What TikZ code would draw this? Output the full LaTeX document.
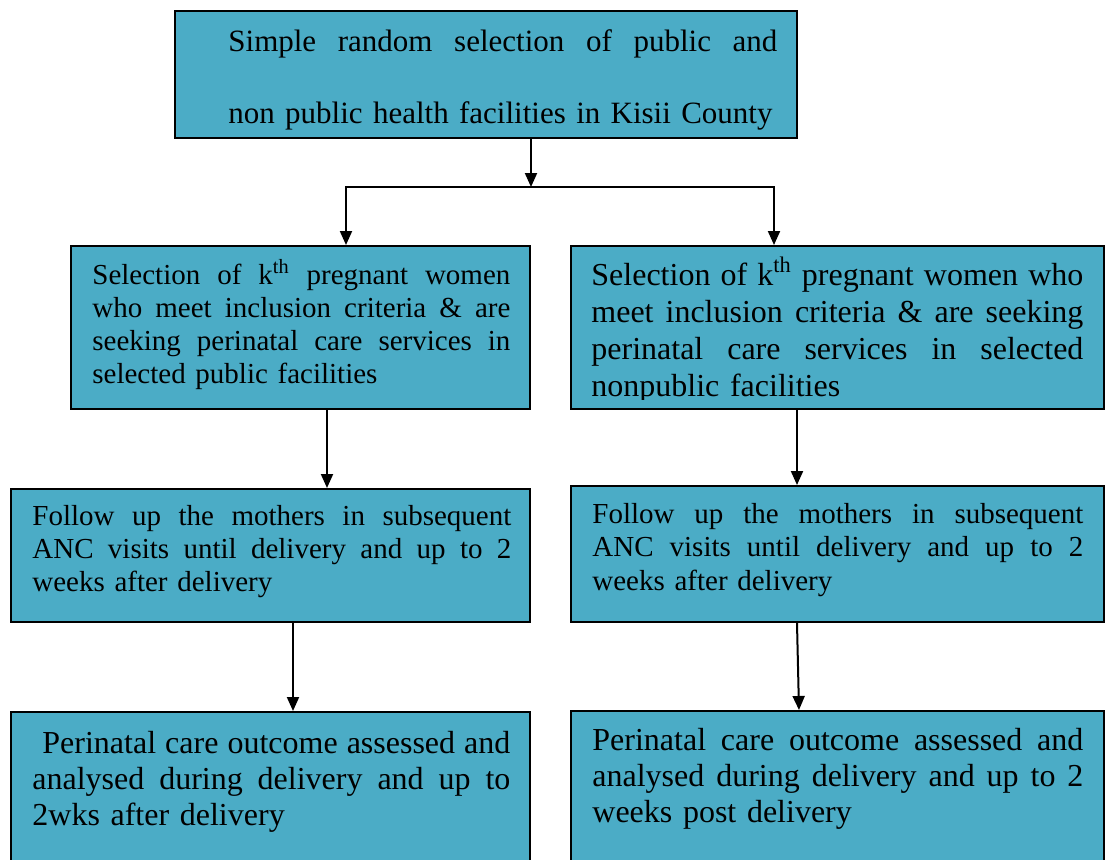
\documentclass[tikz,border=0pt]{standalone}
\usepackage{fontspec}
\setmainfont{Liberation Serif}
\usepackage{tikz}
\usetikzlibrary{arrows.meta}
\definecolor{boxblue}{HTML}{4BACC6}
\tikzstyle{box} = [draw=black, line width=1pt, fill=boxblue, inner sep=0pt]
\tikzstyle{txt} = [anchor=base west, inner sep=0pt, align=left]
\tikzstyle{arrow} = [line width=1pt, -{Triangle[length=7pt,width=6pt]}]
\newcommand{\fullline}[1]{{\spaceskip=0pt\xspaceskip=0pt\makebox[\hsize][s]{#1}}}

\begin{document}
\begin{tikzpicture}[x=0.5pt,y=-0.5pt]
        \useasboundingbox (0,0) rectangle (1105,859);
        % boxes
        \node[box, minimum width=311pt, minimum height=63.5pt] (top) at (486,74.5) {};
        \node[box, minimum width=229.5pt, minimum height=81.5pt] (l2) at (300.5,327.5) {};
        \node[box, minimum width=266.5pt, minimum height=81.5pt] (r2) at (837.5,327.5) {};
        \node[box, minimum width=259.5pt, minimum height=66.5pt] (l3) at (270.5,555.5) {};
        \node[box, minimum width=266.5pt, minimum height=68pt] (r3) at (837.5,554) {};
        \node[box, minimum width=259.5pt, minimum height=84pt] (l4) at (270.5,796) {};
        \node[box, minimum width=266.5pt, minimum height=84pt] (r4) at (837.5,795) {};
        % texts
        \node[txt, text width=274.5pt, font=\fontsize{15.5pt}{36pt}\selectfont] (toptxt) at (228,51)
            {\fullline{Simple random selection of public and}\\\mbox{non public health facilities in Kisii County}};
        \node[txt, text width=209pt, font=\fontsize{14.5pt}{16.65pt}\selectfont] (l2txt) at (92,284)
            {\fullline{Selection of k\textsuperscript{th} pregnant women}\\\fullline{who meet inclusion criteria \& are}\\\fullline{seeking perinatal care services in}\\selected public facilities};
        \begin{scope}
            \clip (571,246) rectangle (1104,399);
            \node[txt, text width=246pt, font=\fontsize{16pt}{18.5pt}\selectfont] (r2txt) at (591,285)
                {\fullline{Selection of k\textsuperscript{th} pregnant women who}\\\fullline{meet inclusion criteria \& are seeking}\\\fullline{perinatal care services in selected}\\nonpublic facilities};
        \end{scope}
        \node[txt, text width=239.5pt, font=\fontsize{14.5pt}{16.5pt}\selectfont] (l3txt) at (32,525)
            {\fullline{Follow up the mothers in subsequent}\\\fullline{ANC visits until delivery and up to 2}\\weeks after delivery};
        \node[txt, text width=245.5pt, font=\fontsize{14.5pt}{16.75pt}\selectfont] (r3txt) at (592,523)
            {\fullline{Follow up the mothers in subsequent}\\\fullline{ANC visits until delivery and up to 2}\\weeks after delivery};
        \node[txt, text width=239pt, font=\fontsize{16pt}{18pt}\selectfont] (l4txt) at (32,753)
            {\fullline{\hspace{5pt}Perinatal care outcome assessed and}\\\fullline{analysed during delivery and up to}\\2wks after delivery};
        \node[txt, text width=245.5pt, font=\fontsize{16pt}{18pt}\selectfont] (r4txt) at (592,750)
            {\fullline{Perinatal care outcome assessed and}\\\fullline{analysed during delivery and up to 2}\\weeks post delivery};
        % connectors
        \coordinate (split) at (531,187);
        \draw[arrow] (top.south -| split) -- (split);
        \draw[arrow] (split) -| (l2.north -| 346,0);
        \draw[arrow] (split) -| (r2.north -| 774,0);
        \draw[arrow] (l2.south -| 327,0) -- (l3.north -| 327,0);
        \draw[arrow] (r2.south -| 797,0) -- (r3.north -| 797,0);
        \draw[arrow] (l3.south -| 293,0) -- (l4.north -| 293,0);
        \draw[arrow] (r3.south -| 797,0) -- (r4.north -| 799,0);
    \end{tikzpicture}
\end{document}
